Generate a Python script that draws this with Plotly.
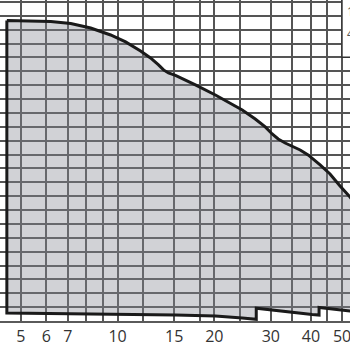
import plotly.graph_objects as go

# Upper limit curve (flow, head units)
top_x = [4.52, 5.368, 6.192, 7.145, 8.244, 9.512, 10.59, 11.79, 12.66, 13.41, 13.90, 14.40,
         15.14, 17.47, 20.16, 24.44, 26.83, 28.82, 30.29, 31.62, 33.24, 37.02, 39.19,
         42.71, 45.86, 49.27, 52.92, 56.85]
top_y = [21.67, 21.65, 21.59, 21.45, 21.12, 20.62, 20.12, 19.47, 18.96, 18.46, 18.10, 17.88,
         17.70, 17.02, 16.29, 15.21, 14.56, 13.99, 13.48, 13.12, 12.83, 12.33, 11.97,
         11.25, 10.60, 9.73, 8.94, 8.00]

# Lower limit (right to left)
base_x = [56.85, 52.92, 42.39, 42.39, 40.33, 27.02, 27.02, 24.44, 20.16, 15.14, 4.52]
base_y = [0.65, 0.72, 0.97, 0.43, 0.47, 0.92, 0.12, 0.22, 0.36, 0.43, 0.58]

grid_x = [5, 6, 7, 8, 9, 10, 12, 15, 18, 20, 24, 30, 35, 40, 45, 50]
label_x = [5, 6, 7, 10, 15, 20, 30, 40, 50]
tick_text = [str(v) if v in label_x else "" for v in grid_x]

poly_x = top_x + base_x + [top_x[0]]
poly_y = top_y + base_y + [top_y[0]]

fig = go.Figure()
fig.add_trace(go.Scatter(
    x=poly_x, y=poly_y, mode="lines", fill="toself",
    fillcolor="rgba(135,138,148,0.38)",
    line=dict(color="#1a1a1a", width=3),
    hoverinfo="skip", showlegend=False,
))

fig.update_layout(
    width=350, height=350,
    margin=dict(l=0, r=0, t=0, b=29),
    paper_bgcolor="white", plot_bgcolor="white",
    font=dict(family="Open Sans", size=16, color="#333333"),
    xaxis=dict(
        type="log", range=[0.6338, 1.7236],
        tickmode="array", tickvals=grid_x, ticktext=tick_text,
        ticklabeloverflow="allow",
        showgrid=True, gridcolor="#555555", gridwidth=2,
        showline=True, linecolor="#5a5a5a", linewidth=2,
        ticks="", zeroline=False,
    ),
    yaxis=dict(
        range=[0, 23.14], dtick=1, tick0=0,
        showgrid=True, gridcolor="#555555", gridwidth=2,
        showticklabels=False, ticks="", zeroline=False, showline=False,
    ),
    shapes=[dict(type="rect", xref="paper", yref="paper",
                 x0=0.977, x1=1.2, y0=0.822, y1=1.2,
                 fillcolor="white", line=dict(color="#333333", width=1.5))],
    annotations=[
        dict(text="1", x=0.985, y=0.965, xref="paper", yref="paper",
             xanchor="left", yanchor="middle", showarrow=False,
             font=dict(size=12, color="#555555")),
        dict(text="4", x=0.985, y=0.895, xref="paper", yref="paper",
             xanchor="left", yanchor="middle", showarrow=False,
             font=dict(size=12, color="#555555")),
    ],
)

fig.write_html("out.html")
